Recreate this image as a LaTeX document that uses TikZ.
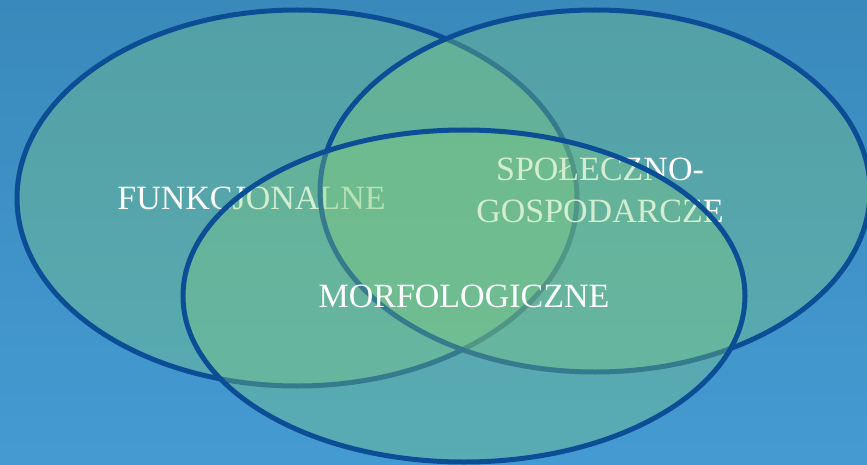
\documentclass[tikz,border=0pt]{standalone}
\usepackage{fontspec}
\setmainfont{Liberation Serif}
\definecolor{bgtop}{RGB}{58,137,187}
\definecolor{bgbot}{RGB}{68,155,210}
\definecolor{vfill}{RGB}{130,205,125}
\definecolor{vborder}{RGB}{12,78,150}
\tikzset{
  venn/.style={fill=vfill, fill opacity=0.35, draw=vborder, draw opacity=1, line width=5pt},
  lbl/.style={text=white, font=\fontsize{34}{42}\selectfont, inner sep=0pt, align=center}
}
\begin{document}
\begin{tikzpicture}[x=1pt,y=-1pt]
\useasboundingbox (0,0) rectangle (867,465);
\shade[top color=bgtop, bottom color=bgbot] (0,0) rectangle (867,465);
% left ellipse
\path[venn] (297,198) ellipse [x radius=280pt, y radius=188pt];
\node[lbl, anchor=base] (funk) at (251.5,209) {FUNKCJONALNE};
% right ellipse
\path[venn] (595,191) ellipse [x radius=275pt, y radius=181pt];
\node[lbl, anchor=center] (spol) at (600,190) {SPOŁECZNO-\\GOSPODARCZE};
% bottom ellipse
\path[venn] (464,296) ellipse [x radius=281pt, y radius=166pt];
\node[lbl, anchor=base] (morf) at (464,307) {MORFOLOGICZNE};
\end{tikzpicture}
\end{document}
